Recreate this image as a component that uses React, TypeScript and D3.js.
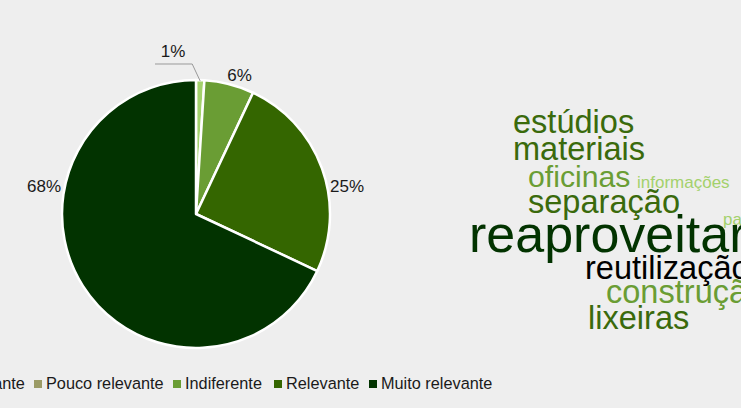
import React from "react";
import * as d3 from "d3";

// ---- data ----
const categories = ["Irrelevante", "Pouco relevante", "Indiferente", "Relevante", "Muito relevante"];
const values = [1, 0, 6, 25, 68];
const sliceColors = ["#a3d16c", "#9b9b66", "#6a9d34", "#346600", "#023300"];

const words = ["estúdios", "materiais", "oficinas", "informações", "separação", "papel", "reaproveitar", "reutilização", "construção", "lixeiras"];
const wordFreq = [5, 5, 4.4, 1, 5, 1, 10, 5, 5, 5];
const wordColors = ["#3a6a0c", "#3a6a0c", "#6a9d34", "#a3d16c", "#3a6a0c", "#a3d16c", "#023300", "#000000", "#6a9d34", "#3a6a0c"];

// ---- layout ----
const W = 741, H = 408;
const FONT = "'Liberation Sans', Arial, sans-serif";
const cx = 196, cy = 214, R = 134;
const labelLayout: Record<number, { x: number; y: number; anchor: string }> = {
  0: { x: 173, y: 57, anchor: "middle" },
  2: { x: 239.5, y: 81, anchor: "middle" },
  3: { x: 330, y: 192, anchor: "start" },
  4: { x: 61, y: 192, anchor: "end" },
};
const wordPos = [
  [513, 133], [513, 160], [528, 187], [637, 188], [528, 213],
  [723, 225], [469, 252], [585, 279], [606, 303], [588, 329],
];
const legendX = [-64, 34, 173, 274, 369];

export default function App() {
  const pie = d3.pie<number>().sort(null).value((d) => d).startAngle(0).endAngle(2 * Math.PI);
  const arcs = pie(values);
  const arc = d3.arc<d3.PieArcDatum<number>>().innerRadius(0).outerRadius(R);
  const size = d3.scaleLinear().domain([1, 10]).range([17, 52]);

  const a0 = arcs[0];
  const mid0 = (a0.startAngle + a0.endAngle) / 2;
  const p0 = [cx + R * Math.sin(mid0), cy - R * Math.cos(mid0) + 1];

  return (
    <svg width={W} height={H} style={{ position: "absolute", left: 0, top: 0, background: "#eeeeee" }} fontFamily={FONT}>
      <rect width={W} height={H} fill="#eeeeee" />
      <g transform={`translate(${cx},${cy})`}>
        {arcs.map((a, i) =>
          a.value > 0 ? (
            <path key={i} d={arc(a) || ""} fill={sliceColors[i]} stroke="#ffffff" strokeWidth={2.5} strokeLinejoin="round" />
          ) : null
        )}
      </g>
      <polyline
        points={`${p0[0]},${p0[1]} ${p0[0] - 8},64 155,64`}
        fill="none"
        stroke="#999999"
        strokeWidth={1}
      />
      {arcs.map((a, i) => {
        const l = labelLayout[i];
        if (!l || a.value <= 0) return null;
        return (
          <text key={i} x={l.x} y={l.y} textAnchor={l.anchor} fontSize={17} fill="#1a1a1a">
            {`${Math.round(a.value)}%`}
          </text>
        );
      })}
      {categories.map((c, i) => (
        <g key={c} transform={`translate(${legendX[i]},0)`}>
          <rect x={0} y={380} width={8} height={8} fill={sliceColors[i]} />
          <text x={12} y={389} fontSize={16.3} fill="#1a1a1a">{c}</text>
        </g>
      ))}
      {words.map((w, i) => (
        <text key={w} x={wordPos[i][0]} y={wordPos[i][1]} fontSize={size(wordFreq[i])} fill={wordColors[i]}>
          {w}
        </text>
      ))}
    </svg>
  );
}
